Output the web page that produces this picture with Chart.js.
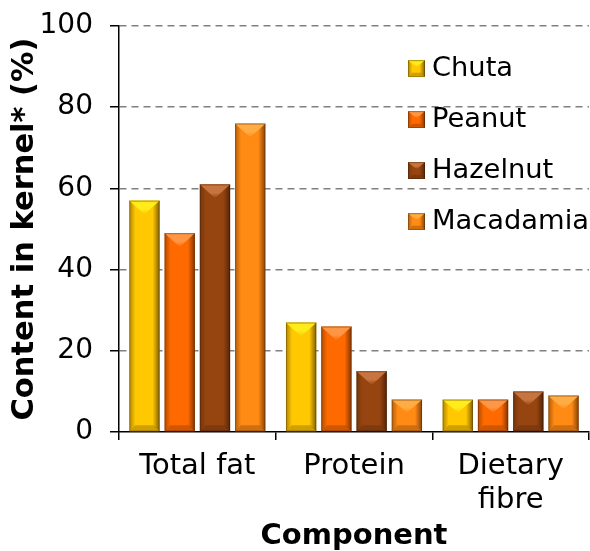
<!DOCTYPE html>
<html lang="en">
<head>
  <meta charset="UTF-8" />
  <title>Kernel composition</title>
  <script src="https://cdn.jsdelivr.net/npm/chart.js"></script>
  <style>
    html, body { margin: 0; padding: 0; background: #fff; }
    #wrap { width: 590px; height: 551px; position: relative; }
  </style>
</head>
<body>
  <div id="wrap"><canvas id="kernelChart"></canvas></div>

  <script>
    // Data
    const components = ['Total fat', 'Protein', ['Dietary', 'fibre']];
    const seriesNames = ['Chuta', 'Peanut', 'Hazelnut', 'Macadamia'];
    const chuta = [57, 27, 8];
    const peanut = [49, 26, 8];
    const hazelnut = [61, 15, 10];
    const macadamia = [76, 8, 9];
    const yTicks = [0, 20, 40, 60, 80, 100];

    // colours: main fill, light top bevel, dark edges
    const palette = [
      { main: '#ffc800', light: '#ffec1a', dark: '#9a7800' },
      { main: '#ff6a00', light: '#ff9646', dark: '#a84300' },
      { main: '#974510', light: '#c87440', dark: '#552408' },
      { main: '#ff8a14', light: '#ffac44', dark: '#a85a0c' }
    ];

    Chart.defaults.font.family = '"DejaVu Sans", Verdana, sans-serif';
    Chart.defaults.color = '#000';

    // bevelled look like the office 3D bars
    function drawBevel(ctx, left, top, w, h, c) {
      const right = left + w, bottom = top + h, cx = left + w / 2;
      const d = Math.min(14, h * 0.42);
      const s = Math.min(6, w / 4, h / 4);
      ctx.save();

      // left side
      let g = ctx.createLinearGradient(left, 0, left + s, 0);
      g.addColorStop(0, 'rgba(60,30,0,0.4)');
      g.addColorStop(1, 'rgba(60,30,0,0)');
      ctx.fillStyle = g;
      ctx.beginPath();
      ctx.moveTo(left, top); ctx.lineTo(left + s, top + s);
      ctx.lineTo(left + s, bottom - s); ctx.lineTo(left, bottom); ctx.closePath();
      ctx.fill();

      // right side
      g = ctx.createLinearGradient(right, 0, right - s - 1, 0);
      g.addColorStop(0, 'rgba(30,10,0,0.55)');
      g.addColorStop(1, 'rgba(30,10,0,0)');
      ctx.fillStyle = g;
      ctx.beginPath();
      ctx.moveTo(right, top); ctx.lineTo(right - s - 1, top + s);
      ctx.lineTo(right - s - 1, bottom - s); ctx.lineTo(right, bottom); ctx.closePath();
      ctx.fill();

      // top chevron (light)
      g = ctx.createLinearGradient(0, top, 0, top + d);
      g.addColorStop(0, c.light);
      g.addColorStop(0.6, c.light);
      g.addColorStop(1, c.main);
      ctx.fillStyle = g;
      ctx.beginPath();
      ctx.moveTo(left, top); ctx.lineTo(right, top); ctx.lineTo(cx, top + d); ctx.closePath();
      ctx.fill();
      // thin darker lip along the very top
      ctx.fillStyle = 'rgba(120,60,0,0.18)';
      ctx.fillRect(left, top, w, 1.5);

      // bottom band
      ctx.fillStyle = 'rgba(40,20,0,0.22)';
      ctx.beginPath();
      ctx.moveTo(left, bottom); ctx.lineTo(right, bottom);
      ctx.lineTo(right - s, bottom - s); ctx.lineTo(left + s, bottom - s); ctx.closePath();
      ctx.fill();

      // thin edge
      ctx.strokeStyle = 'rgba(0,0,0,0.2)';
      ctx.lineWidth = 1;
      ctx.strokeRect(left + 0.5, top + 0.5, w - 1, h - 1);
      ctx.restore();
    }

    const bevelPlugin = {
      id: 'bevel',
      afterDatasetsDraw(chart) {
        const ctx = chart.ctx;
        chart.data.datasets.forEach((ds, i) => {
          chart.getDatasetMeta(i).data.forEach(bar => {
            const p = bar.getProps(['x', 'y', 'base', 'width'], true);
            drawBevel(ctx, p.x - p.width / 2, p.y, p.width, p.base - p.y, palette[i]);
          });
        });
      }
    };

    // legend inside the plot, top right
    const insideLegend = {
      id: 'insideLegend',
      afterDraw(chart) {
        const ctx = chart.ctx;
        const area = chart.chartArea;
        const bx = area.right - 181;
        ctx.save();
        ctx.font = '27.3px "DejaVu Sans", Verdana, sans-serif';
        ctx.textBaseline = 'middle';
        ctx.textAlign = 'left';
        chart.data.datasets.forEach((ds, i) => {
          const yc = area.top + 42 + i * 51;
          ctx.fillStyle = palette[i].main;
          ctx.fillRect(bx, yc - 8, 17, 17);
          drawBevel(ctx, bx, yc - 8, 17, 17, palette[i]);
          ctx.fillStyle = '#000';
          ctx.fillText(ds.label, bx + 24, yc + 1);
        });
        ctx.restore();
      }
    };

    const allSeries = [chuta, peanut, hazelnut, macadamia];

    new Chart(document.getElementById('kernelChart'), {
      type: 'bar',
      data: {
        labels: components,
        datasets: seriesNames.map((name, i) => ({
          label: name,
          data: allSeries[i],
          backgroundColor: palette[i].main,
          borderWidth: 0,
          categoryPercentage: 0.9,
          barPercentage: 0.86
        }))
      },
      options: {
        responsive: true,
        maintainAspectRatio: false,
        animation: false,
        layout: { padding: { top: 26, right: 1, left: 0, bottom: 0 } },
        plugins: {
          legend: { display: false },
          tooltip: { enabled: false }
        },
        scales: {
          x: {
            grid: {
              offset: true,
              drawOnChartArea: false,
              color: '#000',
              lineWidth: 1.5,
              tickLength: 8
            },
            border: { color: '#000', width: 1.5 },
            ticks: {
              color: '#000',
              font: { size: 29, lineHeight: 1.15 },
              padding: 10,
              maxRotation: 0,
              autoSkip: false
            },
            title: {
              display: true,
              text: 'Component',
              color: '#000',
              font: { size: 29, weight: 'bold', lineHeight: 1 },
              padding: { top: 0, bottom: 0 }
            },
            afterFit(scale) {
              scale.height = 119;
              scale.paddingLeft = 0;
              scale.paddingRight = 0;
            }
          },
          y: {
            min: 0,
            max: 100,
            afterBuildTicks(scale) {
              scale.ticks = yTicks.map(v => ({ value: v }));
            },
            grid: {
              color: ctx => (ctx.tick && ctx.tick.value === 0) ? 'rgba(0,0,0,0)' : '#808080',
              lineWidth: 1.5,
              tickColor: '#000',
              tickWidth: 1.5,
              tickLength: 9
            },
            border: { color: '#000', width: 1.5, dash: [7, 5] },
            ticks: {
              color: '#000',
              font: { size: 28 },
              padding: 17
            },
            title: {
              display: true,
              text: 'Content in kernel* (%)',
              color: '#000',
              font: { size: 30.5, weight: 'bold' },
              padding: { top: 7, bottom: 0 }
            },
            afterFit(scale) {
              scale.width = 119;
              scale.paddingTop = 0;
              scale.paddingBottom = 0;
            }
          }
        }
      },
      plugins: [bevelPlugin, insideLegend]
    });
  </script>
</body>
</html>
